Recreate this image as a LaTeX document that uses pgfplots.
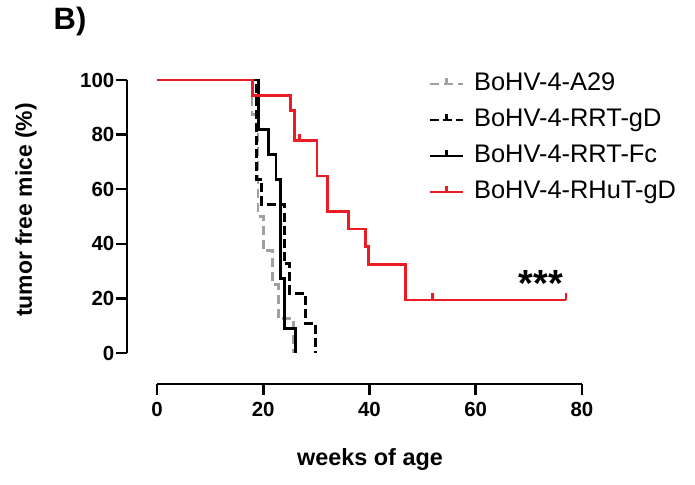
\documentclass[border=0pt]{standalone}
\usepackage{fontspec}
\setmainfont{Liberation Sans}
\usepackage{pgfplots}
\pgfplotsset{compat=1.18}
\definecolor{kmred}{RGB}{237,28,36}
\definecolor{kmgray}{RGB}{160,160,160}
% censoring tick: short stroke pointing up
\pgfdeclareplotmark{cens}{%
  \pgfpathmoveto{\pgfpointorigin}%
  \pgfpathlineto{\pgfpoint{0pt}{7bp}}%
  \pgfusepathqstroke}

\begin{document}
\begin{tikzpicture}
\path[use as bounding box] (0,0) rectangle (695bp,485bp);
\begin{axis}[
  at={(157bp,132bp)}, anchor=south west,
  scale only axis, width=425bp, height=273bp,
  xmin=0, xmax=80, ymin=0, ymax=100,
  xtick={0,20,...,80}, ytick={0,20,...,100},
  axis x line*=bottom, axis y line*=left,
  axis line style={line width=2.5bp,-},
  x axis line style={yshift=-31bp},
  y axis line style={xshift=-30bp},
  xtick style={yshift=-31bp, line width=2.5bp, black},
  ytick style={xshift=-30bp, line width=2.5bp, black},
  tick align=outside, major tick length=11bp,
  /pgf/number format/assume math mode=true,
  xticklabel style={yshift=-35bp, font=\fontsize{20.5}{24}\selectfont\bfseries},
  yticklabel style={xshift=-30bp, font=\fontsize{20.5}{24}\selectfont\bfseries, inner sep=1.5bp},
  clip=false,
  legend cell align=left,
  legend style={at={(0.638,1.037)}, anchor=north west, draw=none, fill=none,
    font=\fontsize{25.5}{29}\selectfont, inner sep=0pt, row sep=8bp, column sep=8bp,
    nodes={text height=18bp, text depth=6bp, inner sep=2bp}},
  legend image code/.code={%
    \draw[#1,line width=2.8bp] (0bp,0bp) -- (33bp,0bp);
    \draw[#1,solid,line width=2.5bp] (16.5bp,0bp) -- (16.5bp,6bp);},
]
\addplot[kmgray, line width=2.8bp, dash pattern=on 9bp off 5bp, const plot] coordinates {
  (0,100) (17.9,87.5) (19.0,50) (20.0,37.5) (21.8,25) (22.8,12.5) (25.7,0)};
\addlegendentry{BoHV-4-A29}
\addplot[black, line width=2.8bp, dash pattern=on 9bp off 4bp, const plot] coordinates {
  (0,100) (18.8,63.6) (19.7,54.5) (24.0,32.7) (25.0,21.8) (27.9,10.9) (29.8,0)};
\addlegendentry{BoHV-4-RRT-gD}
\addplot[black, line width=2.8bp, const plot] coordinates {
  (0,100) (19.1,81.8) (21.0,72.7) (22.4,63.6) (23.2,27.3) (24.0,9.1) (26.0,0)};
\addlegendentry{BoHV-4-RRT-Fc}
\addplot[kmred, line width=2.8bp, const plot] coordinates {
  (0,100) (18.0,94.4) (25.2,88.9) (25.9,77.8) (30.1,64.8) (32.1,51.8)
  (36.0,45.4) (39.2,38.9) (39.8,32.4) (46.8,19.4) (77.0,19.4)};
\addlegendentry{BoHV-4-RHuT-gD}
\addplot[kmred, only marks, mark=cens, mark options={line width=2.5bp}, forget plot] coordinates {
  (26.8,77.8) (51.9,19.4) (77.0,19.4)};
\node[font=\fontsize{38}{38}\selectfont\bfseries] at (axis cs:72.3,25.5) {***};
\end{axis}
\node[font=\fontsize{23}{26}\selectfont\bfseries, rotate=90] at (26bp,275bp) {tumor free mice (\%)};
\node[font=\fontsize{23.5}{26}\selectfont\bfseries] at (370bp,26bp) {weeks of age};
\node[font=\fontsize{31}{34}\selectfont\bfseries] at (70bp,463bp) {B)};
\end{tikzpicture}
\end{document}
